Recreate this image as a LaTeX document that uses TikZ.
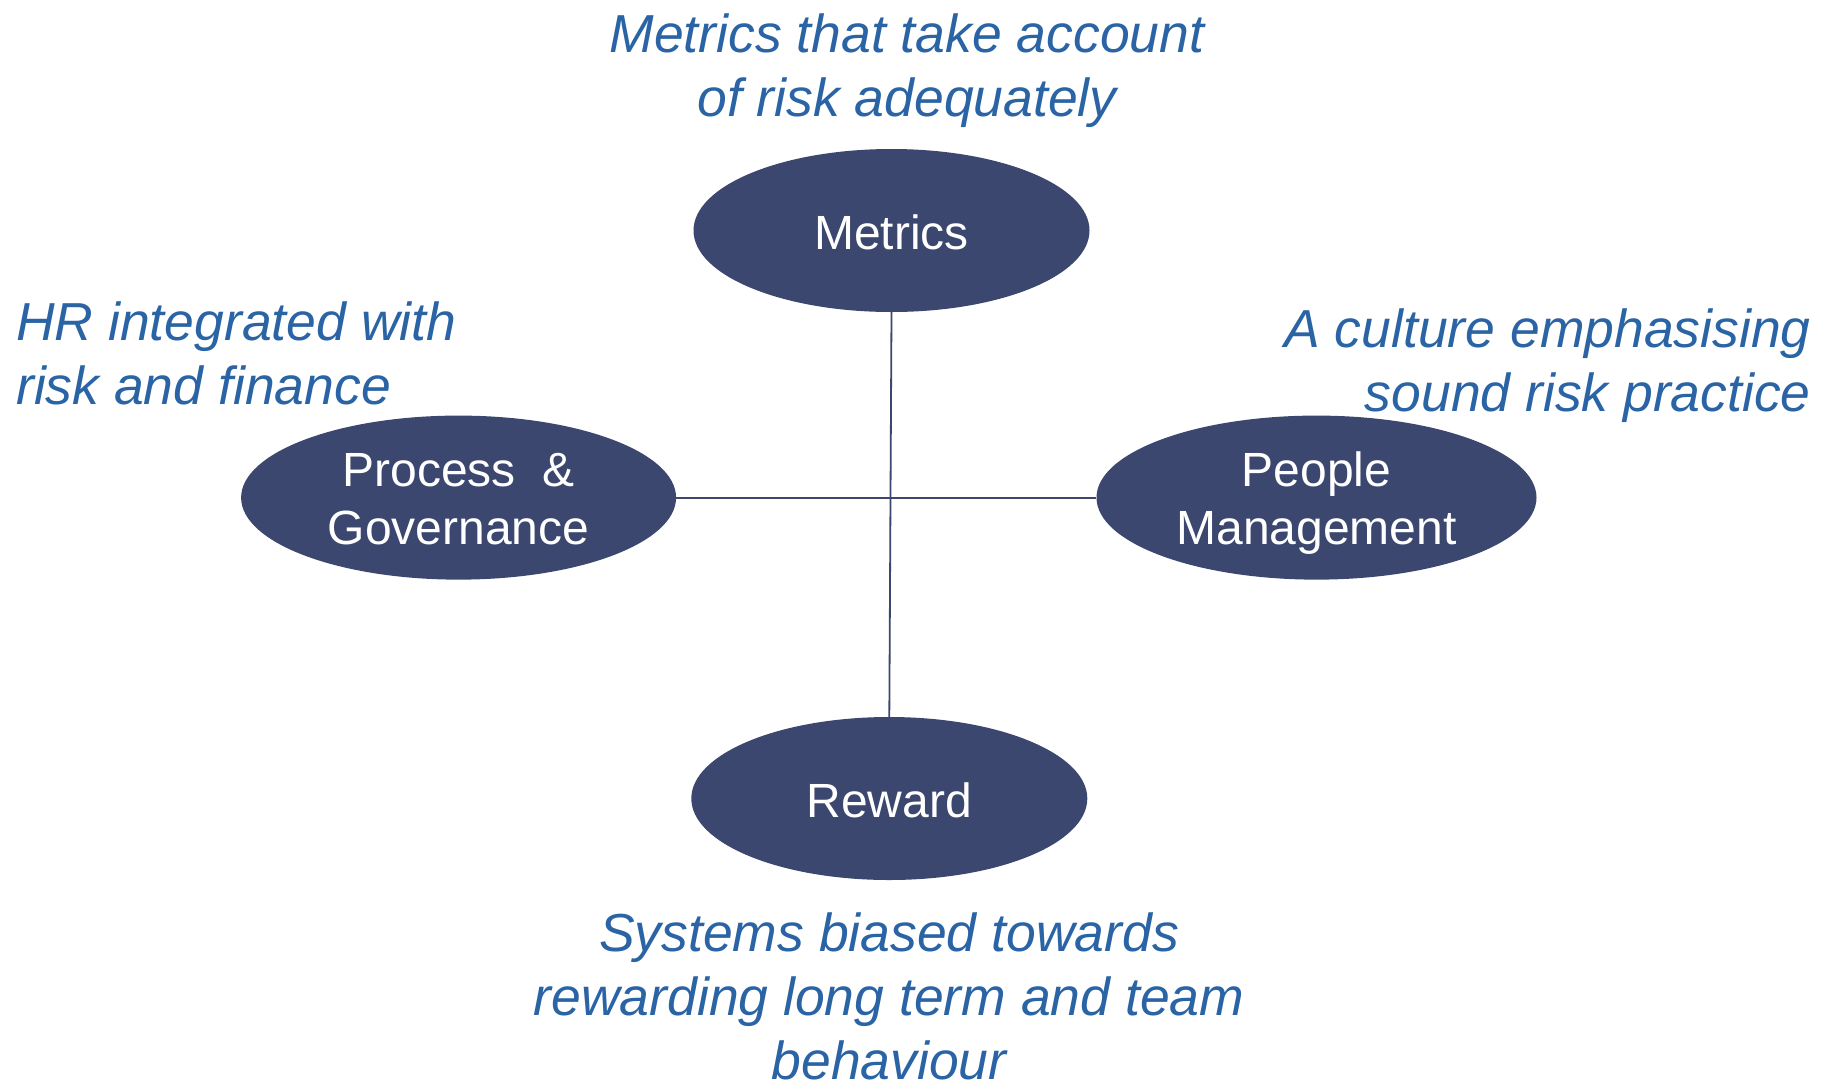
\documentclass[tikz,border=0pt]{standalone}
\usepackage{fontspec}
\setmainfont{Liberation Sans}
\usetikzlibrary{shapes.geometric}
\definecolor{navy}{HTML}{3C476F}
\definecolor{capblue}{HTML}{2A64A5}
\tikzset{
  bubble/.style={ellipse, fill=navy, draw=none, inner sep=0pt, text=white, align=center,
    font=\fontsize{48}{58}\selectfont},
  onebox/.style={text height=38.5pt, text depth=0pt},
  twobox/.style={text height=104.6pt, text depth=11.4pt},
  caption/.style={text=capblue, inner sep=0pt, font=\fontsize{53.5}{64}\selectfont\itshape},
  link/.style={draw=navy, line width=1.8pt}
}
\begin{document}
\begin{tikzpicture}[x=1pt,y=-1pt]
\useasboundingbox (0,0) rectangle (1825,1085);
\node[bubble, onebox, minimum width=396, minimum height=163] (metrics) at (891.5,230.5) {Metrics};
\node[bubble, twobox, minimum width=435, minimum height=164] (process) at (458.6,497.6) {Process\ \ \&\strut\\Governance\strut};
\node[bubble, twobox, minimum width=440, minimum height=164] (people) at (1316.5,497.6) {People\strut\\Management\strut};
\node[bubble, onebox, minimum width=396, minimum height=163] (reward) at (889.3,798.5) {Reward};
\draw[link] (metrics.south) -- (reward.north);
\draw[link] (process.east) -- (people.west);
\node[caption, align=center, anchor=base] (captop) at (907,116) {Metrics that take account\\of risk adequately};
\node[caption, align=left, anchor=base west] (capleft) at (16,404) {HR integrated with\\risk and finance};
\node[caption, align=right, anchor=base east] (capright) at (1811,411) {A culture emphasising\\sound risk practice};
\node[caption, align=center, anchor=base] (capbottom) at (889,1079) {Systems biased towards\\rewarding long term and team\\behaviour};
\end{tikzpicture}
\end{document}
